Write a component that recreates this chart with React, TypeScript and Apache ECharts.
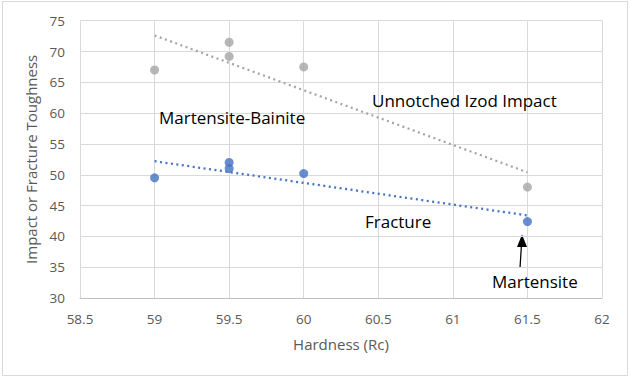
import React, { useEffect, useRef } from "react";
import * as echarts from "echarts";

const hardnessImpact = [59, 59.5, 59.5, 60, 61.5];
const impactValues = [67, 71.5, 69.2, 67.5, 48];
const hardnessFracture = [59, 59.5, 59.5, 60, 61.5];
const fractureValues = [49.5, 52, 51, 50.2, 42.4];
const trendX = [59, 61.5];
const impactTrend = [72.6, 50.4];
const fractureTrend = [52.2, 43.4];

const FONT = "'Open Sans', 'Noto Sans', sans-serif";

export default function App() {
  const ref = useRef<HTMLDivElement>(null);
  useEffect(() => {
    document.body.style.margin = "0";
    const chart = echarts.init(ref.current!, null, { renderer: "svg" });
    const pair = (xs: number[], ys: number[]) => xs.map((x, i) => [x, ys[i]]);
    const annot = (text: string, x: number, y: number) => ({
      type: "text",
      x,
      y,
      style: { text, fill: "#000", font: `17px ${FONT}`, textVerticalAlign: "middle" },
      z: 100,
    });
    chart.setOption({
      animation: false,
      backgroundColor: "#fff",
      textStyle: { fontFamily: FONT },
      grid: { left: 80, top: 20.7, right: 28, bottom: 81 },
      xAxis: {
        type: "value",
        min: 58.5,
        max: 62,
        interval: 0.5,
        name: "Hardness (Rc)",
        nameLocation: "middle",
        nameGap: 38,
        nameTextStyle: { color: "#595959", fontSize: 15, fontFamily: FONT },
        axisLine: { show: true, lineStyle: { color: "#bfbfbf", width: 1 } },
        axisTick: { show: false },
        axisLabel: { color: "#595959", fontSize: 13.5, margin: 14, fontFamily: FONT },
        splitLine: { show: true, lineStyle: { color: "#d9d9d9", width: 1 } },
      },
      yAxis: {
        type: "value",
        min: 30,
        max: 75,
        interval: 5,
        name: "Impact or Fracture Toughness",
        nameLocation: "middle",
        nameGap: 35,
        nameTextStyle: { color: "#595959", fontSize: 15, fontFamily: FONT },
        axisLine: { show: false },
        axisTick: { show: false },
        axisLabel: { color: "#595959", fontSize: 13.5, margin: 15, fontFamily: FONT },
        splitLine: { show: true, lineStyle: { color: "#d9d9d9", width: 1 } },
      },
      series: [
        {
          name: "Unnotched Izod Impact",
          type: "scatter",
          data: pair(hardnessImpact, impactValues),
          symbol: "circle",
          symbolSize: 9,
          itemStyle: { color: "#a5a5a5" },
        },
        {
          name: "Fracture",
          type: "scatter",
          data: pair(hardnessFracture, fractureValues),
          symbol: "circle",
          symbolSize: 9,
          itemStyle: { color: "#4472c4" },
        },
        {
          name: "Impact trend",
          type: "line",
          data: pair(trendX, impactTrend),
          showSymbol: false,
          symbol: "none",
          lineStyle: { color: "#a5a5a5", width: 2.25, type: [2, 3.5] },
          z: 3,
        },
        {
          name: "Fracture trend",
          type: "line",
          data: pair(trendX, fractureTrend),
          showSymbol: false,
          symbol: "none",
          lineStyle: { color: "#4472c4", width: 2.25, type: [2, 3.5] },
          z: 3,
        },
      ],
      graphic: [
        {
          type: "rect",
          shape: { x: 2.5, y: 1.5, width: 625, height: 374 },
          style: { fill: "none", stroke: "#d9d9d9", lineWidth: 1 },
          silent: true,
        },
        annot("Martensite-Bainite", 159, 117),
        annot("Unnotched Izod Impact", 372, 100),
        annot("Fracture", 365, 221),
        annot("Martensite", 492, 281),
        {
          type: "line",
          shape: { x1: 520, y1: 268, x2: 521.5, y2: 244 },
          style: { stroke: "#000", lineWidth: 1.2 },
        },
        {
          type: "polygon",
          shape: { points: [[522, 234.5], [517, 247], [527, 247]] },
          style: { fill: "#000" },
        },
      ],
    });
    return () => chart.dispose();
  }, []);
  return (
    <div
      ref={ref}
      style={{ position: "absolute", left: 0, top: 0, width: 630, height: 379 }}
    />
  );
}
